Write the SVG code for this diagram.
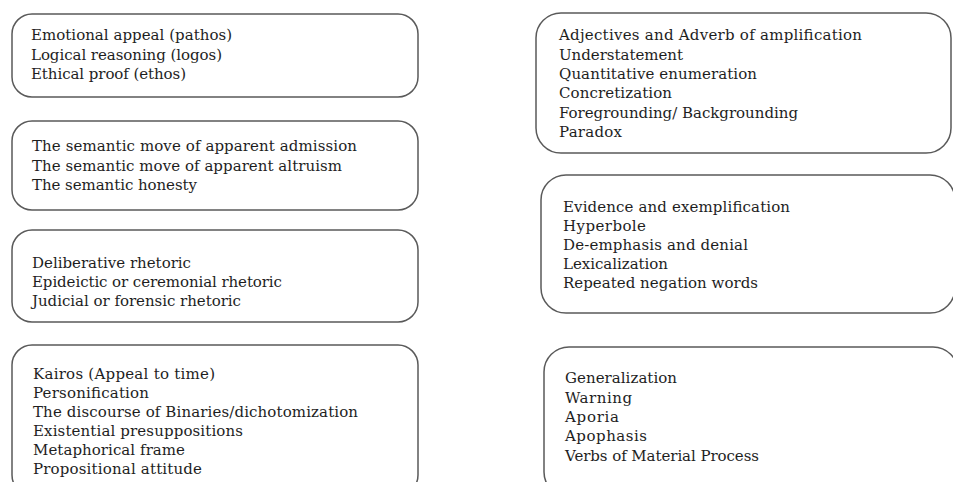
<svg xmlns="http://www.w3.org/2000/svg" width="953" height="482" viewBox="0 0 953 482">
<style>
.box{fill:#ffffff;stroke:#5a5a5a;stroke-width:1.5}
.t{font-family:"DejaVu Serif","Liberation Serif",serif;font-size:15px;fill:#1e1e1e}
</style>
<rect x="0" y="0" width="953" height="482" fill="#ffffff"/>
<g id="connectors"></g>
<g id="box1">
<rect class="box" x="12" y="14" width="406" height="83" rx="20"/>
<text class="t" x="31" y="40" textLength="201">Emotional appeal (pathos)</text>
<text class="t" x="31" y="59.5" textLength="191">Logical reasoning (logos)</text>
<text class="t" x="31" y="79" textLength="155">Ethical proof (ethos)</text>
</g>
<g id="box2">
<rect class="box" x="12" y="121" width="406" height="89" rx="20"/>
<text class="t" x="32" y="151" textLength="325">The semantic move of apparent admission</text>
<text class="t" x="32" y="170.5" textLength="310">The semantic move of apparent altruism</text>
<text class="t" x="32" y="190" textLength="165">The semantic honesty</text>
</g>
<g id="box3">
<rect class="box" x="12" y="230" width="406" height="92" rx="20"/>
<text class="t" x="32" y="268" textLength="159">Deliberative rhetoric</text>
<text class="t" x="32" y="287" textLength="250">Epideictic or ceremonial rhetoric</text>
<text class="t" x="32" y="306" textLength="209">Judicial or forensic rhetoric</text>
</g>
<g id="box4">
<rect class="box" x="12" y="345" width="406" height="150" rx="20"/>
<text class="t" x="33" y="379" textLength="182">Kairos (Appeal to time)</text>
<text class="t" x="33" y="398" textLength="116">Personification</text>
<text class="t" x="33" y="417" textLength="325">The discourse of Binaries/dichotomization</text>
<text class="t" x="33" y="436" textLength="210">Existential presuppositions</text>
<text class="t" x="33" y="455" textLength="152">Metaphorical frame</text>
<text class="t" x="33" y="474" textLength="169">Propositional attitude</text>
</g>
<g id="box5">
<rect class="box" x="536" y="13" width="415" height="140" rx="25"/>
<text class="t" x="559" y="40" textLength="303">Adjectives and Adverb of amplification</text>
<text class="t" x="559" y="59.5" textLength="124">Understatement</text>
<text class="t" x="559" y="79" textLength="198">Quantitative enumeration</text>
<text class="t" x="559" y="98" textLength="113">Concretization</text>
<text class="t" x="559" y="117.5" textLength="239">Foregrounding/ Backgrounding</text>
<text class="t" x="559" y="137" textLength="63">Paradox</text>
</g>
<g id="box6">
<rect class="box" x="541" y="175" width="414" height="138" rx="25"/>
<text class="t" x="563" y="212" textLength="227">Evidence and exemplification</text>
<text class="t" x="563" y="231" textLength="83">Hyperbole</text>
<text class="t" x="563" y="250" textLength="185">De-emphasis and denial</text>
<text class="t" x="563" y="269" textLength="105">Lexicalization</text>
<text class="t" x="563" y="288" textLength="195">Repeated negation words</text>
</g>
<g id="box7">
<rect class="box" x="544" y="347" width="414" height="150" rx="25"/>
<text class="t" x="565" y="383" textLength="112">Generalization</text>
<text class="t" x="565" y="403" textLength="67">Warning</text>
<text class="t" x="565" y="422" textLength="54">Aporia</text>
<text class="t" x="565" y="441" textLength="82">Apophasis</text>
<text class="t" x="565" y="461" textLength="194">Verbs of Material Process</text>
</g>
</svg>
